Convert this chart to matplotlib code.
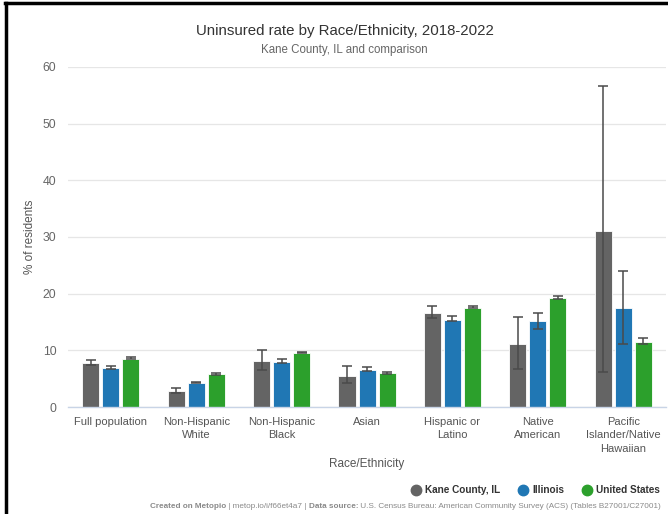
import matplotlib
matplotlib.use('Agg')
from matplotlib import pyplot as plt
from matplotlib.lines import Line2D
import numpy as np

plt.rcParams['font.family'] = ['Liberation Sans', 'DejaVu Sans']

# data
groups = ['Full population', 'Non-Hispanic\nWhite', 'Non-Hispanic\nBlack', 'Asian',
          'Hispanic or\nLatino', 'Native\nAmerican', 'Pacific\nIslander/Native\nHawaiian']
series = ['Kane County, IL', 'Illinois', 'United States']
colors = ['#646464', '#2077b4', '#2ca02c']

kane = [7.8, 2.8, 8.2, 5.5, 16.6, 11.1, 31.1]
kane_lo = [7.5, 2.5, 6.5, 4.2, 15.7, 6.8, 6.2]
kane_hi = [8.3, 3.35, 10.1, 7.3, 17.8, 15.9, 56.7]

illinois = [6.9, 4.3, 8.0, 6.5, 15.4, 15.1, 17.4]
illinois_lo = [6.8, 4.2, 7.7, 6.3, 15.1, 13.7, 11.2]
illinois_hi = [7.2, 4.5, 8.5, 7.1, 16.0, 16.6, 24.0]

us = [8.5, 5.75, 9.6, 6.0, 17.5, 19.3, 11.5]
us_lo = [8.4, 5.7, 9.5, 5.9, 17.4, 19.0, 11.2]
us_hi = [8.8, 6.0, 9.8, 6.2, 17.9, 19.6, 12.1]

vals = [kane, illinois, us]
los = [kane_lo, illinois_lo, us_lo]
his = [kane_hi, illinois_hi, us_hi]

fig = plt.figure(figsize=(6.68, 5.14), dpi=100)
ax = fig.add_axes([0.102, 0.208, 0.895, 0.662])

x = np.arange(len(groups))
w = 0.2
step = 0.235
for i in range(3):
    v = np.array(vals[i])
    err = [v - np.array(los[i]), np.array(his[i]) - v]
    ax.bar(x + (i - 1) * step, v, width=w, color=colors[i], edgecolor='white',
           linewidth=0.6, zorder=2)
    ax.errorbar(x + (i - 1) * step, v, yerr=err, fmt='none', ecolor='#4a4a4a',
                elinewidth=1.1, capsize=3.5, capthick=1.1, zorder=3)

ax.set_xlim(-0.5, len(groups) - 0.5)
ax.set_ylim(0, 60)
ax.set_yticks(range(0, 61, 10))
ax.grid(axis='y', color='#e6e6e6', linewidth=0.9, zorder=0)
ax.set_axisbelow(True)
for s in ['top', 'right', 'left']:
    ax.spines[s].set_visible(False)
ax.spines['bottom'].set_color('#c8d4e6')
ax.spines['bottom'].set_linewidth(1)
ax.tick_params(axis='y', length=0, colors='#666666', labelsize=8.8, pad=8.5)
ax.tick_params(axis='x', length=0, colors='#555555', labelsize=8, pad=7)
ax.set_xticks(x)
ax.set_xticklabels(groups, linespacing=1.45)
ax.set_xlabel('Race/Ethnicity', color='#555555', fontsize=8.5, labelpad=3)
ax.set_ylabel('% of residents', color='#555555', fontsize=8.5, labelpad=5)

fig.text(0.516, 0.94, 'Uninsured rate by Race/Ethnicity, 2018-2022', ha='center',
         va='center', fontsize=10.8, color='#333333')
fig.text(0.516, 0.903, 'Kane County, IL and comparison', ha='center', va='center',
         fontsize=8.3, color='#666666')

handles = [Line2D([], [], marker='o', linestyle='none', markersize=7.5,
                  markerfacecolor=c, markeredgecolor=c) for c in colors]
leg = fig.legend(handles, series, loc='center right', bbox_to_anchor=(1.002, 0.046),
                 ncol=3, frameon=False, fontsize=7.2, handletextpad=0.3,
                 columnspacing=1.7, handlelength=1.2)
for t in leg.get_texts():
    t.set_fontweight('bold')
    t.set_color('#333333')

# footer, mixed bold and normal pieces placed left to right, sized to fit
pieces = [('Created on Metopio', 'bold'), (' | metop.io/i/f66et4a7 | ', 'normal'),
          ('Data source:', 'bold'),
          (' U.S. Census Bureau: American Community Survey (ACS) (Tables B27001/C27001)', 'normal')]
fig.canvas.draw()
r = fig.canvas.get_renderer()
x0, x1 = 0.2245, 0.996


def put_footer(size):
    arts = []
    xpos = x0
    for txt, wt in pieces:
        t = fig.text(xpos, 0.012, txt, fontsize=size, color='#8a8a8a', fontweight=wt,
                     va='baseline')
        arts.append(t)
        xpos = t.get_window_extent(renderer=r).x1 / fig.bbox.width
    return arts, xpos


arts, end = put_footer(6.0)
for a in arts:
    a.remove()
put_footer(6.0 * (x1 - x0) / (end - x0))

# frame lines on the left and top edge
fig.add_artist(Line2D([0.009, 0.009], [0, 0.994], transform=fig.transFigure,
                      color='black', linewidth=2.5))
fig.add_artist(Line2D([0.008, 1], [0.994, 0.994], transform=fig.transFigure,
                      color='black', linewidth=2.5))

fig.savefig('out.png', dpi=100, facecolor='white')
